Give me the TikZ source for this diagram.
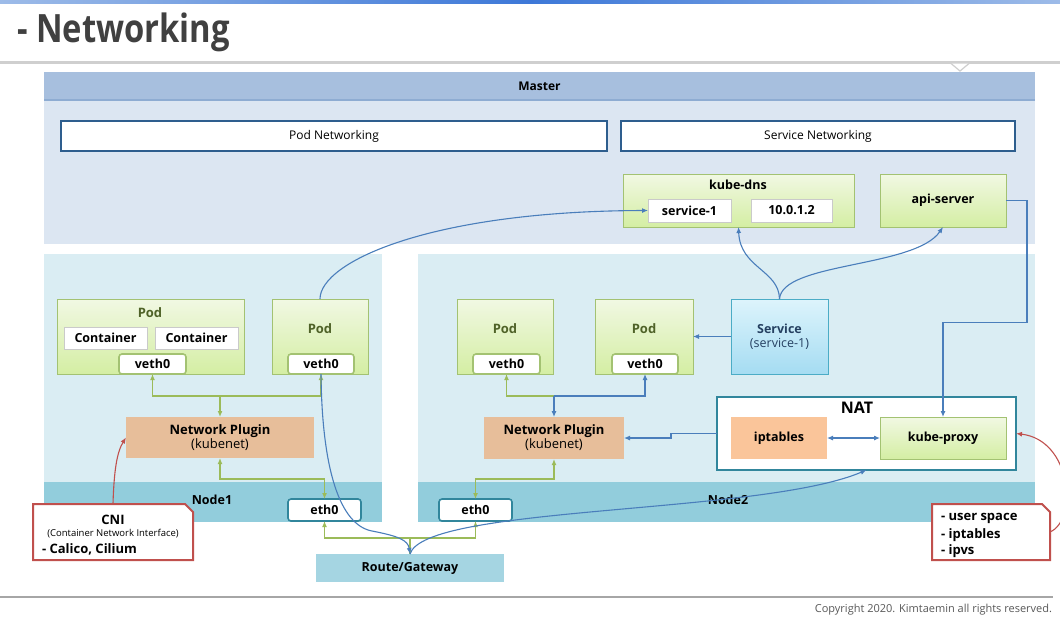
\documentclass[tikz,border=0pt]{standalone}
\usepackage{fontspec}
\setmainfont{Open Sans}
\usetikzlibrary{arrows.meta,shadows,calc}
\definecolor{topblueA}{HTML}{9DBBE8}
\definecolor{topblueB}{HTML}{3D78D8}
\definecolor{titlegray}{HTML}{404040}
\definecolor{rulegray}{HTML}{CFCFCF}
\definecolor{botgray}{HTML}{A6A6A6}
\definecolor{mhcol}{HTML}{A7BFDE}
\definecolor{mhline}{HTML}{8EACD2}
\definecolor{mbcol}{HTML}{DCE6F2}
\definecolor{hboxline}{HTML}{2E5E8E}
\definecolor{gtop}{HTML}{F1F8E3}
\definecolor{gbot}{HTML}{D4EEA3}
\definecolor{gline}{HTML}{A3C272}
\definecolor{podtxt}{HTML}{4F6228}
\definecolor{narea}{HTML}{DAEDF3}
\definecolor{nband}{HTML}{92CDDC}
\definecolor{plugcol}{HTML}{E7BE9A}
\definecolor{iptcol}{HTML}{FAC59A}
\definecolor{rgcol}{HTML}{A5D5E2}
\definecolor{ethline}{HTML}{31869C}
\definecolor{stop}{HTML}{DDF4FC}
\definecolor{sbot}{HTML}{A5DCF2}
\definecolor{sline}{HTML}{4BACC6}
\definecolor{stxt}{HTML}{254061}
\definecolor{conblue}{HTML}{4A7EBB}
\definecolor{congreen}{HTML}{9BBB59}
\definecolor{conred}{HTML}{C0504D}
\definecolor{wline}{HTML}{A6A6A6}
\definecolor{copygray}{HTML}{595959}
\newcommand\fsz[1]{\fontsize{#1}{#1}\selectfont}
\newcommand\bx[7]{%
  \node[#2, minimum width={(#5-(#3))*1pt}, minimum height={(#6-(#4))*1pt}]
    (#1) at ({(#3+#5)/2},{(#4+#6)/2}) {#7};}
\tikzset{
  base/.style={inner sep=0pt, outer sep=0pt, align=center, text=black},
  mhead/.style={base, fill=mhcol, font=\fsz{12}\bfseries},
  mbody/.style={base, fill=mbcol},
  hbox/.style={base, fill=white, draw=hboxline, line width=1.6pt, font=\fsz{12}},
  gbox/.style={base, draw=gline, line width=1pt, top color=gtop, bottom color=gbot,
    drop shadow={opacity=0.25, shadow xshift=1.2pt, shadow yshift=-1.2pt}, font=\fsz{12.5}\bfseries},
  wbox/.style={base, fill=white, draw=wline!60, line width=0.8pt,
    drop shadow={opacity=0.25, shadow xshift=1pt, shadow yshift=-1pt}, font=\fsz{12.5}\bfseries},
  vbox/.style={base, fill=white, draw=gline, line width=1.6pt, rounded corners=3pt, font=\fsz{12.5}\bfseries},
  ebox/.style={base, fill=white, draw=ethline, line width=1.6pt, rounded corners=3pt, font=\fsz{12.5}\bfseries},
  nareast/.style={base, fill=narea},
  nbandst/.style={base, fill=nband},
  plug/.style={base, fill=plugcol, font=\fsz{13}},
  iptst/.style={base, fill=iptcol, font=\fsz{12.5}\bfseries},
  rgst/.style={base, fill=rgcol, font=\fsz{12.5}\bfseries},
  svcst/.style={base, draw=sline, line width=1pt, top color=stop, bottom color=sbot, text=stxt,
    drop shadow={opacity=0.25, shadow xshift=1.2pt, shadow yshift=-1.2pt}, font=\fsz{12.5}},
  natst/.style={base, fill=white, draw=ethline, line width=2pt},
  ghost/.style={base},
  lbl/.style={inner sep=0pt, outer sep=0pt, text=black},
  bcon/.style={draw=conblue, line width=1.1pt, -{Latex[length=6pt,width=5pt]}},
  gcon/.style={draw=congreen, line width=1.3pt, -{Latex[length=6pt,width=5pt]}},
  rcon/.style={draw=conred, line width=1.1pt, -{Latex[length=6pt,width=5pt]}},
  callout/.style={draw=conred, line width=2pt, fill=white, line join=miter},
}
\begin{document}
\begin{tikzpicture}[x=1pt,y=-1pt]
\useasboundingbox (0,0) rectangle (1060,625);
\fill[white] (0,0) rectangle (1060,625);
% top strip and title
\shade[left color=topblueA, right color=topblueA, middle color=topblueB] (0,0) rectangle (1060,3);
\node[lbl, anchor=west, text=titlegray] (title) at (17,32)
  {\scalebox{0.84}[1]{\fsz{39}\bfseries - Networking}};
\draw[rulegray, line width=3pt] (0,62) -- (1060,62);
\filldraw[fill=white, draw=rulegray, line width=1.2pt] (951,63.5) -- (960,71) -- (969,63.5);
\draw[botgray, line width=2.5pt] (0,597) -- (1053,597);
\node[lbl, anchor=east, text=copygray, font=\fsz{11}] (copy) at (1052,610)
  {Copyright 2020. Kimtaemin all rights reserved.};
% Master
\bx{mb}{mbody}{44}{100}{1035}{244}{}
\bx{mh}{mhead}{44}{72}{1035}{100}{Master}
\draw[mhline, line width=1.5pt] (mh.south west) -- (mh.south east);
\bx{pn}{hbox}{61}{121}{607}{151}{Pod Networking}
\bx{sn}{hbox}{621}{121}{1015}{151}{Service Networking}
\bx{kdns}{gbox}{623}{174}{854}{227}{}
\node[lbl, font=\fsz{12.5}\bfseries] (kdnsl) at (738,185) {kube-dns};
\bx{s1}{wbox}{648}{199}{731}{222}{service-1}
\bx{ipn}{wbox}{751}{199}{832}{222}{10.0.1.2}
\bx{api}{gbox}{880}{174}{1006}{227}{api-server}
% Node areas
\bx{n1}{nareast}{44}{254}{382}{482}{}
\bx{n1b}{nbandst}{44}{482}{382}{522}{}
\node[lbl, font=\fsz{12.5}\bfseries] (n1l) at (212,500) {Node1};
\bx{n2}{nareast}{418}{254}{1035}{482}{}
\bx{n2b}{nbandst}{418}{482}{1035}{522}{}
\node[lbl, font=\fsz{12.5}\bfseries] (n2l) at (728,500) {Node2};
% Node1 content
\bx{p1}{gbox}{57}{299}{244}{374}{}
\node[lbl, text=podtxt, font=\fsz{13}\bfseries] (p1l) at (150,313) {Pod};
\bx{c1}{wbox}{64}{327}{147}{349}{Container}
\bx{c2}{wbox}{155}{327}{238}{349}{Container}
\bx{v1}{vbox}{119}{354}{186}{374}{veth0}
\bx{p2}{gbox}{272}{299}{368}{374}{}
\node[lbl, text=podtxt, font=\fsz{13}\bfseries] (p2l) at (320,329) {Pod};
\bx{v2}{vbox}{288}{354}{354}{374}{veth0}
\bx{np1}{plug}{126}{417}{314}{458}{{\bfseries Network Plugin}\\[1pt](kubenet)}
\bx{e1}{ebox}{288}{499}{361}{521}{eth0}
% Node2 content
\bx{p3}{gbox}{457}{299}{553}{374}{}
\node[lbl, text=podtxt, font=\fsz{13}\bfseries] (p3l) at (505,329) {Pod};
\bx{v3}{vbox}{473}{354}{540}{374}{veth0}
\bx{p4}{gbox}{595}{299}{693}{374}{}
\node[lbl, text=podtxt, font=\fsz{13}\bfseries] (p4l) at (644,329) {Pod};
\bx{v4}{vbox}{612}{354}{678}{374}{veth0}
\bx{svc}{svcst}{731}{299}{828}{374}{{\bfseries Service}\\[1pt](service-1)}
\bx{np2}{plug}{484}{417}{624}{459}{{\bfseries Network Plugin}\\[1pt](kubenet)}
\bx{nat}{natst}{717}{397}{1016}{470}{}
\node[lbl, font=\fsz{16}\bfseries] (natl) at (857,408) {NAT};
\bx{ipt}{iptst}{731}{417}{827}{459}{iptables}
\bx{kp}{gbox}{880}{417}{1006}{459}{kube-proxy}
\bx{e2}{ebox}{439}{499}{512}{521}{eth0}
\bx{rg}{rgst}{316}{554}{504}{582}{Route/Gateway}
% callouts
\bx{cni}{ghost}{33}{504}{193}{560}{}
\draw[callout] (cni.south west) -- (cni.north west) -- ([xshift=-8pt]cni.north east)
  -- ([yshift=-8pt]cni.north east) -- (cni.south east) -- cycle;
\node[lbl, font=\fsz{13}\bfseries] (cnit) at (113,520) {CNI};
\node[lbl, font=\fsz{9.5}] (cnis) at (113,534) {(Container Network Interface)};
\node[lbl, anchor=west, font=\fsz{13}\bfseries] (cnic) at (42,549) {- Calico, Cilium};
\bx{us}{ghost}{932}{504}{1050}{560}{}
\draw[callout] (us.south west) -- (us.north west) -- ([xshift=-8pt]us.north east)
  -- ([yshift=-8pt]us.north east) -- (us.south east) -- cycle;
\node[lbl, anchor=west, font=\fsz{13}\bfseries] (us1) at (941,518) {- user space};
\node[lbl, anchor=west, font=\fsz{13}\bfseries] (us2) at (941,535) {- iptables};
\node[lbl, anchor=west, font=\fsz{13}\bfseries] (us3) at (941,551) {- ipvs};
% Node1 green connectors
\coordinate (j1) at (220,396);
\draw[gcon] (j1) -| (v1.south);
\draw[gcon] (j1) -| (v2.south);
\draw[gcon] (j1) -- (np1.north);
\draw[gcon, {Latex[length=6pt,width=5pt]}-{Latex[length=6pt,width=5pt]}] (np1.south) -- ++(0,21) -| (e1.north);
% Node2 connectors
\coordinate (j4) at (554,396);
\draw[gcon] (j4) -| (v3.south);
\draw[bcon] (j4) -| (v4.south);
\draw[bcon] (j4) -- (np2.north);
\draw[gcon, {Latex[length=6pt,width=5pt]}-{Latex[length=6pt,width=5pt]}] (np2.south) -- ++(0,20) -| (e2.north);
% eth0 to gateway
\coordinate (j3) at (410,538);
\draw[gcon] (j3) -| (e1.south);
\draw[gcon] (j3) -| (e2.south);
\draw[draw=congreen, line width=1.3pt] (j3) -- (rg.north);
% blue connectors
\draw[bcon] (svc.west) -- (p4.east);
\draw[bcon] (nat.west) -- ++(-46,0) |- (np2.east);
\draw[bcon, {Latex[length=6pt,width=5pt]}-{Latex[length=6pt,width=5pt]}] (ipt.east) -- (kp.west);
\draw[bcon] (api.east) -- ++(21,0) -- ++(0,122) -| (kp.north);
\draw[bcon] (p2.north) .. controls (320,262) and (430,211) .. (s1.west);
\draw[bcon] (svc.north) .. controls (779,270) and (740,268) .. (kdns.south);
\draw[bcon] (svc.north) .. controls (782,262) and (915,268) .. (api.south);
\draw[bcon] (v2.south) .. controls (322,470) and (340,525) .. (372,531)
  .. controls (398,536) and (408,540) .. (rg.north);
\draw[bcon] (rg.north) .. controls (425,505) and (760,515) .. (nat.south);
% red connectors
\draw[rcon] (cni.north) .. controls (114,470) and (117,452) .. (np1.west);
\draw[rcon] (us.east) .. controls (1078,520) and (1072,440) .. (nat.east);
\end{tikzpicture}
\end{document}
